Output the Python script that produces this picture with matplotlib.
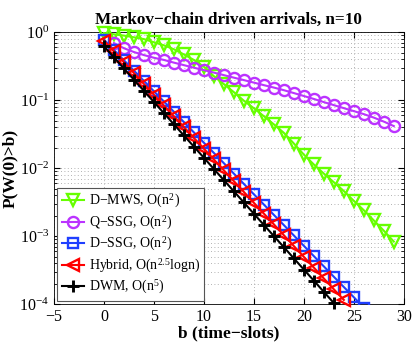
import matplotlib
matplotlib.use("Agg")
import matplotlib.pyplot as plt
import numpy as np

b_mws = list(range(0, 30))
p_mws = [0.97, 0.93, 0.89, 0.84, 0.79, 0.71, 0.64, 0.56, 0.47, 0.39,
         0.31, 0.225, 0.172, 0.131, 0.098, 0.076, 0.058, 0.044, 0.033, 0.023,
         0.0158, 0.0113, 0.0083, 0.0062, 0.0046, 0.0033, 0.0024, 0.0017, 0.0012, 0.00083]

b_qssg = list(range(1, 30))
p_qssg = [0.69, 0.58, 0.51, 0.46, 0.42, 0.39, 0.356, 0.327, 0.30, 0.276,
          0.254, 0.233, 0.214, 0.197, 0.181, 0.166, 0.153, 0.140, 0.127, 0.115,
          0.104, 0.0935, 0.0844, 0.0762, 0.0689, 0.0622, 0.0553, 0.0483, 0.0415]

b_dssg = list(range(0, 27))
p_dssg = [0.776, 0.547, 0.386, 0.272, 0.192, 0.135, 0.0955, 0.0673, 0.0475, 0.0335,
          0.0236, 0.0167, 0.0118, 0.00829, 0.00585, 0.00412, 0.00291, 0.00205, 0.00145, 0.00102,
          7.19e-4, 5.07e-4, 3.58e-4, 2.52e-4, 1.78e-4, 1.26e-4, 8.8e-5]

b_hyb = list(range(0, 25))
p_hyb = [0.750, 0.520, 0.361, 0.250, 0.173, 0.120, 0.0834, 0.0578, 0.0401, 0.0278,
         0.0193, 0.0134, 0.00927, 0.00643, 0.00446, 0.00309, 0.00214, 0.00149, 0.00103, 7.14e-4,
         4.95e-4, 3.44e-4, 2.38e-4, 1.65e-4, 1.15e-4]

b_dwm = list(range(0, 24))
p_dwm = [0.622, 0.426, 0.292, 0.200, 0.137, 0.0938, 0.0643, 0.0440, 0.0302, 0.0207,
         0.0142, 0.00970, 0.00664, 0.00455, 0.00312, 0.00213, 0.00146, 0.00100, 6.87e-4, 4.70e-4,
         3.22e-4, 2.21e-4, 1.51e-4, 1.035e-4]

labels = [
    "D\u2212MWS, O(n$^{\\mathregular{2}}$)",
    "Q\u2212SSG, O(n$^{\\mathregular{2}}$)",
    "D\u2212SSG, O(n$^{\\mathregular{2}}$)",
    "Hybrid, O(n$^{\\mathregular{2.5}}$logn)",
    "DWM, O(n$^{\\mathregular{5}}$)",
]

plt.rcParams["font.family"] = ["Liberation Serif", "DejaVu Serif"]
plt.rcParams["mathtext.fontset"] = "stix"

fig = plt.figure(figsize=(4.15, 3.42), dpi=100)
ax = fig.add_axes([0.130, 0.111, 0.843, 0.795])

lw = 1.5
mew = 1.7
ms = 8.5
ax.plot(b_mws, p_mws, color="#66ff00", marker="v", mfc="none", mew=mew, ms=ms, lw=lw,
        label=labels[0], clip_on=False, zorder=3)
ax.plot(b_qssg, p_qssg, color="#bb33ff", marker="o", mfc="none", mew=mew, ms=ms - 0.5, lw=lw,
        label=labels[1], clip_on=False, zorder=3)
ax.plot(b_dssg, p_dssg, color="#1f3fff", marker="s", mfc="none", mew=mew, ms=ms - 1.5, lw=lw,
        label=labels[2], zorder=4)
ax.plot(b_hyb, p_hyb, color="#ff0000", marker="<", mfc="none", mew=mew, ms=ms, lw=lw,
        label=labels[3], clip_on=False, zorder=5)
ax.plot(b_dwm, p_dwm, color="black", marker="+", mew=mew + 0.4, ms=ms, lw=lw,
        label=labels[4], clip_on=False, zorder=6)

ax.set_yscale("log")
ax.set_xlim(-5, 30)
ax.set_ylim(1e-4, 1)
ax.set_xticks(np.arange(-5, 31, 5))
ax.set_yticks([1e-4, 1e-3, 1e-2, 1e-1, 1])

ax.grid(True, which="major", color="#999999", linestyle=(0, (1, 3)), linewidth=0.6)
ax.yaxis.grid(True, which="minor", color="#999999", linestyle=(0, (1, 3)), linewidth=0.6)
ax.tick_params(which="both", direction="in", top=True, right=True, labelsize=11.5)
ax.tick_params(which="major", length=4)
ax.tick_params(which="minor", length=2)
for spine in ax.spines.values():
    spine.set_linewidth(0.6)

ax.set_title("Markov\u2212chain driven arrivals, n=10", fontsize=12.3, fontweight="bold", pad=6)
ax.set_xlabel("b (time\u2212slots)", fontsize=12.5, fontweight="bold", labelpad=0)
ax.set_ylabel("P(W(0)>b)", fontsize=12.5, fontweight="bold", labelpad=1)

leg = ax.legend(loc="lower left", fontsize=10, handlelength=1.6, borderaxespad=0.25,
                labelspacing=0.25, handletextpad=0.35, borderpad=0.3, fancybox=False)
leg.get_frame().set_edgecolor("#555555")
leg.get_frame().set_linewidth(0.8)
leg.get_frame().set_alpha(1)

fig.savefig("out.png", dpi=100)
